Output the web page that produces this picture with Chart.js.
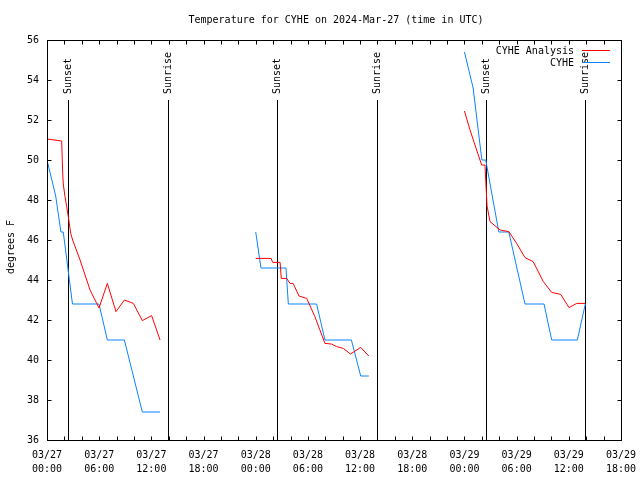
<!DOCTYPE html>
<html>
<head>
<meta charset="utf-8">
<script src="https://cdn.jsdelivr.net/npm/chart.js@4.4.0/dist/chart.umd.min.js"></script>
<style>
  html, body { margin: 0; padding: 0; background: #fff; }
  canvas { display: block; }
</style>
</head>
<body>
<canvas id="tempChart" width="640" height="480"></canvas>
<script>
// hours since 03/27 00:00 UTC, null = gap between runs
const analysisHours = [0, 1.69, 1.8, 1.87, 2.07, 2.26, 2.45, 2.73, 2.95, 3.8, 4.95, 5.98, 6.94, 7.93, 8.9, 9.93, 10.96, 12.03, 13.0,
  18,
  24.0, 25.76, 25.95, 26.8, 26.94, 27.56, 27.94, 28.3, 28.98, 29.86, 30.8, 31.96, 32.7, 33.3, 34.07, 34.9, 36.07, 37.0,
  42,
  48.0, 48.64, 49.4, 49.98, 50.36, 50.4, 50.6, 50.94, 52.1, 53.1, 54.0, 54.96, 55.9, 57.07, 58.03, 59.07, 60.02, 60.9, 61.9];
const analysisTemps = [51.05, 50.95, 49.4, 48.8, 48.17, 47.67, 47.17, 46.33, 46.0, 45.0, 43.5, 42.6, 43.83, 42.42, 43.0, 42.83, 41.97, 42.22, 41.0,
  null,
  45.08, 45.08, 44.88, 44.88, 44.08, 44.08, 43.83, 43.83, 43.2, 43.08, 42.17, 40.83, 40.8, 40.67, 40.58, 40.3, 40.63, 40.2,
  null,
  52.45, 51.5, 50.5, 49.75, 49.75, 49.4, 47.7, 46.92, 46.5, 46.42, 45.83, 45.12, 44.92, 43.92, 43.38, 43.28, 42.62, 42.83, 42.83];

const obsHours = [0, 1, 1.6, 1.87, 2.93, 5.98, 6.94, 8.9, 10.96, 13.0,
  18,
  24, 24.6, 27.48, 27.75, 31.0, 31.96, 35.0, 36.07, 37.0,
  42,
  48, 49, 50, 50.45, 51.95, 53.1, 54.96, 57.15, 58.03, 60.98, 61.9];
const obsTemps = [50.0, 48.2, 46.4, 46.4, 42.8, 42.8, 41.0, 41.0, 37.4, 37.4,
  null,
  46.4, 44.6, 44.6, 42.8, 42.8, 41.0, 41.0, 39.2, 39.2,
  null,
  55.4, 53.6, 50.0, 50.0, 46.4, 46.4, 42.8, 42.8, 41.0, 41.0, 42.8];

const sunsetHours = [2.38, 26.4, 50.44];
const sunriseHours = [13.88, 37.9, 61.9];

const xTickHours = [0, 6, 12, 18, 24, 30, 36, 42, 48, 54, 60, 66];
const xTickLabels = [
  ['03/27', '00:00'], ['03/27', '06:00'], ['03/27', '12:00'], ['03/27', '18:00'],
  ['03/28', '00:00'], ['03/28', '06:00'], ['03/28', '12:00'], ['03/28', '18:00'],
  ['03/29', '00:00'], ['03/29', '06:00'], ['03/29', '12:00'], ['03/29', '18:00']
];
const xMinorStep = 2;
const yTickValues = [36, 38, 40, 42, 44, 46, 48, 50, 52, 54, 56];

const FONT = '10px "DejaVu Sans Mono", "Liberation Mono", monospace';

const toPoints = (xs, ys) => xs.map((h, i) => ({ x: h, y: ys[i] }));

const gnuplotFrame = {
  id: 'gnuplotFrame',
  beforeDatasetsDraw(chart) {
    const { ctx, chartArea: a, scales: { x, y } } = chart;
    const top = Math.round(y.getPixelForValue(53));
    ctx.save();
    ctx.strokeStyle = '#000';
    ctx.fillStyle = '#000';
    ctx.lineWidth = 1;
    ctx.font = FONT;
    const marks = sunsetHours.map(h => [h, 'Sunset']).concat(sunriseHours.map(h => [h, 'Sunrise']));
    marks.forEach(([h, label]) => {
      const px = Math.round(x.getPixelForValue(h)) + 0.5;
      ctx.beginPath();
      ctx.moveTo(px, top);
      ctx.lineTo(px, a.bottom);
      ctx.stroke();
      ctx.save();
      ctx.translate(px, top - 6);
      ctx.rotate(-Math.PI / 2);
      ctx.textAlign = 'left';
      ctx.textBaseline = 'middle';
      ctx.fillText(label, 0, 0);
      ctx.restore();
    });
    ctx.restore();
  },
  afterDatasetsDraw(chart) {
    const { ctx, chartArea: a, scales: { x, y } } = chart;
    const L = Math.round(a.left) + 0.5, R = Math.round(a.right) + 0.5;
    const T = Math.round(a.top) + 0.5, B = Math.round(a.bottom) + 0.5;
    ctx.save();
    ctx.strokeStyle = '#000';
    ctx.lineWidth = 1;
    ctx.strokeRect(L, T, R - L, B - T);

    // inward ticks, mirrored on all four sides
    ctx.beginPath();
    for (let h = 0; h <= 66; h += xMinorStep) {
      const px = Math.round(x.getPixelForValue(h)) + 0.5;
      ctx.moveTo(px, B); ctx.lineTo(px, B - 4);
      ctx.moveTo(px, T); ctx.lineTo(px, T + 4);
    }
    yTickValues.forEach(v => {
      const py = Math.round(y.getPixelForValue(v)) + 0.5;
      ctx.moveTo(L, py); ctx.lineTo(L + 4, py);
      ctx.moveTo(R, py); ctx.lineTo(R - 4, py);
    });
    ctx.stroke();

    ctx.font = FONT;
    ctx.fillStyle = '#000';

    // legend, top right inside the plot
    chart.data.datasets.forEach((ds, i) => {
      const ly = 50 + i * 12;
      ctx.textAlign = 'right';
      ctx.textBaseline = 'middle';
      ctx.fillText(ds.label, 574, ly + 1);
      ctx.strokeStyle = ds.borderColor;
      ctx.beginPath();
      ctx.moveTo(582, ly + 0.5);
      ctx.lineTo(610, ly + 0.5);
      ctx.stroke();
    });

    // title and y axis label
    ctx.textAlign = 'center';
    ctx.textBaseline = 'middle';
    ctx.fillText('Temperature for CYHE on 2024-Mar-27 (time in UTC)', 336, 20);
    ctx.save();
    ctx.translate(11, 247);
    ctx.rotate(-Math.PI / 2);
    ctx.fillText('degrees F', 0, 0);
    ctx.restore();
    ctx.restore();
  }
};

new Chart(document.getElementById('tempChart'), {
  type: 'line',
  data: {
    datasets: [{
      label: 'CYHE Analysis',
      data: toPoints(analysisHours, analysisTemps),
      borderColor: '#ff0000',
      borderWidth: 1,
      pointRadius: 0,
      spanGaps: false,
      tension: 0
    }, {
      label: 'CYHE',
      data: toPoints(obsHours, obsTemps),
      borderColor: '#0a84ff',
      borderWidth: 1,
      pointRadius: 0,
      spanGaps: false,
      tension: 0
    }]
  },
  options: {
    responsive: false,
    animation: false,
    devicePixelRatio: 1,
    layout: { padding: { top: 40, right: 19, left: 0, bottom: 0 } },
    plugins: {
      legend: { display: false },
      title: { display: false },
      tooltip: { enabled: false }
    },
    scales: {
      x: {
        type: 'linear',
        min: 0,
        max: 66,
        afterFit: scale => {
          scale.height = 40;
          scale.paddingLeft = 0;
          scale.paddingRight = 0;
        },
        grid: { display: false },
        border: { display: false },
        ticks: {
          stepSize: 6,
          autoSkip: false,
          maxRotation: 0,
          padding: 0,
          color: '#000',
          font: { family: '"DejaVu Sans Mono", monospace', size: 10, lineHeight: 1.4 },
          callback: v => {
            const i = xTickHours.indexOf(v);
            return i >= 0 ? xTickLabels[i] : '';
          }
        }
      },
      y: {
        min: 36,
        max: 56,
        afterFit: scale => { scale.width = 47; },
        grid: { display: false },
        border: { display: false },
        ticks: {
          stepSize: 2,
          padding: 0,
          color: '#000',
          font: { family: '"DejaVu Sans Mono", monospace', size: 10 }
        }
      }
    }
  },
  plugins: [gnuplotFrame]
});
</script>
</body>
</html>
